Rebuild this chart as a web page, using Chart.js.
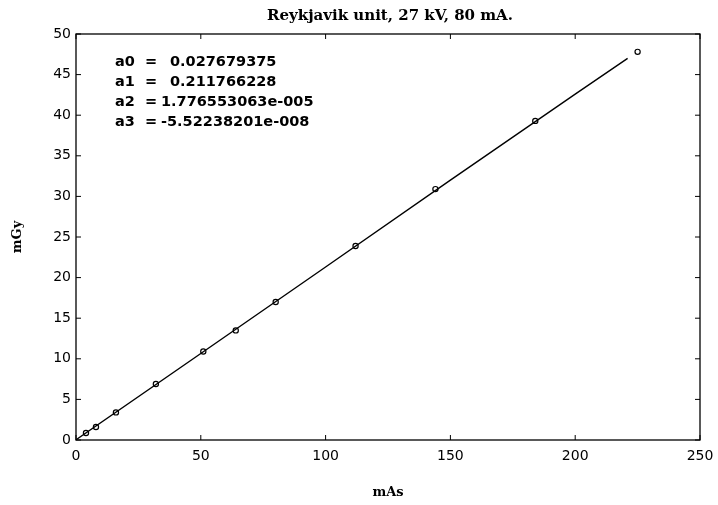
<!DOCTYPE html>
<html lang="en">
<head>
  <meta charset="UTF-8" />
  <title>Reykjavik unit, 27 kV, 80 mA.</title>
  <style>
    * {
      box-sizing: border-box;
    }
    html, body {
      margin: 0;
      background: #ffffff;
    }
    #wrap {
      position: relative;
      width: 718px;
      height: 505px;
    }
  </style>
</head>
<body>
  <div id="wrap">
    <canvas id="doseChart"></canvas>
  </div>

<script src="https://cdn.jsdelivr.net/npm/chart.js"></script>
<script>
  // measured points (mAs -> mGy)
  const mAs = [4, 8, 16, 32, 51, 64, 80, 112, 144, 184, 225];
  const mGy = [0.86, 1.6, 3.4, 6.9, 10.9, 13.5, 17.0, 23.9, 30.9, 39.3, 47.8];

  // fitted curve
  const fitX = [0, 50, 100, 150, 200, 221];
  const fitY = [0.03, 10.65, 21.3, 32.0, 42.6, 47.0];

  // fit coefficients shown in the plot
  const coefNames = ['a0', 'a1', 'a2', 'a3'];
  const coefValues = ['0.027679375', '0.211766228', '1.776553063e-005', '-5.52238201e-008'];

  const xTicks = [0, 50, 100, 150, 200, 250];
  const yTicks = [0, 5, 10, 15, 20, 25, 30, 35, 40, 45, 50];

  const chartTitle = 'Reykjavik unit, 27 kV, 80 mA.';

  const serif = '"DejaVu Serif", serif';
  const sans = '"DejaVu Sans", sans-serif';

  // title over the plot box, box round the plot, inward ticks, coefficient text
  const framePlugin = {
    id: 'frame',
    afterDatasetsDraw(chart) {
      const ctx = chart.ctx;
      const a = chart.chartArea;
      const xs = chart.scales.x;
      const ys = chart.scales.y;
      const len = 5;
      ctx.save();
      ctx.strokeStyle = '#000';
      ctx.lineWidth = 1.3;
      ctx.strokeRect(a.left, a.top, a.right - a.left, a.bottom - a.top);

      ctx.lineWidth = 1;
      ctx.beginPath();
      xTicks.forEach(v => {
        const px = xs.getPixelForValue(v);
        ctx.moveTo(px, a.bottom);
        ctx.lineTo(px, a.bottom - len);
        ctx.moveTo(px, a.top);
        ctx.lineTo(px, a.top + len);
      });
      yTicks.forEach(v => {
        const py = ys.getPixelForValue(v);
        ctx.moveTo(a.left, py);
        ctx.lineTo(a.left + len, py);
        ctx.moveTo(a.right, py);
        ctx.lineTo(a.right - len, py);
      });
      ctx.stroke();

      ctx.fillStyle = '#000';
      ctx.textBaseline = 'middle';
      ctx.textAlign = 'center';
      ctx.font = 'bold 15px ' + serif;
      ctx.fillText(chartTitle, (a.left + a.right) / 2 + 2, 16);

      ctx.textAlign = 'left';
      ctx.font = 'bold 14.5px ' + sans;
      coefNames.forEach((name, i) => {
        const y = a.top + 28 + i * 20;
        ctx.fillText(name, a.left + 39, y);
        ctx.fillText('=', a.left + 69, y);
        const off = coefValues[i].length > 12 ? 85 : 94;
        ctx.fillText(coefValues[i], a.left + off, y);
      });
      ctx.restore();
    }
  };

  const ctx = document.getElementById('doseChart').getContext('2d');

  new Chart(ctx, {
    type: 'scatter',
    data: {
      datasets: [
        {
          label: 'fit',
          data: fitX.map((x, i) => ({ x: x, y: fitY[i] })),
          showLine: true,
          borderColor: '#000',
          borderWidth: 1.4,
          pointRadius: 0,
          tension: 0
        },
        {
          label: 'measured',
          data: mAs.map((x, i) => ({ x: x, y: mGy[i] })),
          showLine: false,
          pointRadius: 2.6,
          pointBorderWidth: 1.2,
          pointBorderColor: '#000',
          pointBackgroundColor: 'rgba(255,255,255,0)'
        }
      ]
    },
    options: {
      responsive: true,
      maintainAspectRatio: false,
      animation: false,
      layout: {
        padding: { left: 0, right: 18, top: 34, bottom: 0 }
      },
      plugins: {
        legend: { display: false },
        tooltip: { enabled: false },
        title: { display: false }
      },
      scales: {
        x: {
          type: 'linear',
          min: 0,
          max: 250,
          afterBuildTicks: s => { s.ticks = xTicks.map(v => ({ value: v })); },
          afterFit: s => {
            s.height = 65;
            s.paddingLeft = 0;
            s.paddingRight = 0;
          },
          grid: { display: false, drawTicks: false },
          border: { display: false },
          ticks: {
            color: '#000',
            padding: 8,
            font: { family: sans, size: 14 }
          },
          title: {
            display: true,
            text: 'mAs',
            color: '#000',
            font: { family: serif, size: 13, weight: 'bold' },
            padding: { top: 0, bottom: 5 }
          }
        },
        y: {
          type: 'linear',
          min: 0,
          max: 50,
          afterBuildTicks: s => { s.ticks = yTicks.map(v => ({ value: v })); },
          afterFit: s => {
            s.width = 76;
            s.paddingTop = 0;
            s.paddingBottom = 0;
          },
          grid: { display: false, drawTicks: false },
          border: { display: false },
          ticks: {
            color: '#000',
            padding: 5,
            font: { family: sans, size: 14 }
          },
          title: {
            display: true,
            text: 'mGy',
            color: '#000',
            font: { family: serif, size: 13, weight: 'bold' },
            padding: { top: 10, bottom: 0 }
          }
        }
      }
    },
    plugins: [framePlugin]
  });
</script>
</body>
</html>
